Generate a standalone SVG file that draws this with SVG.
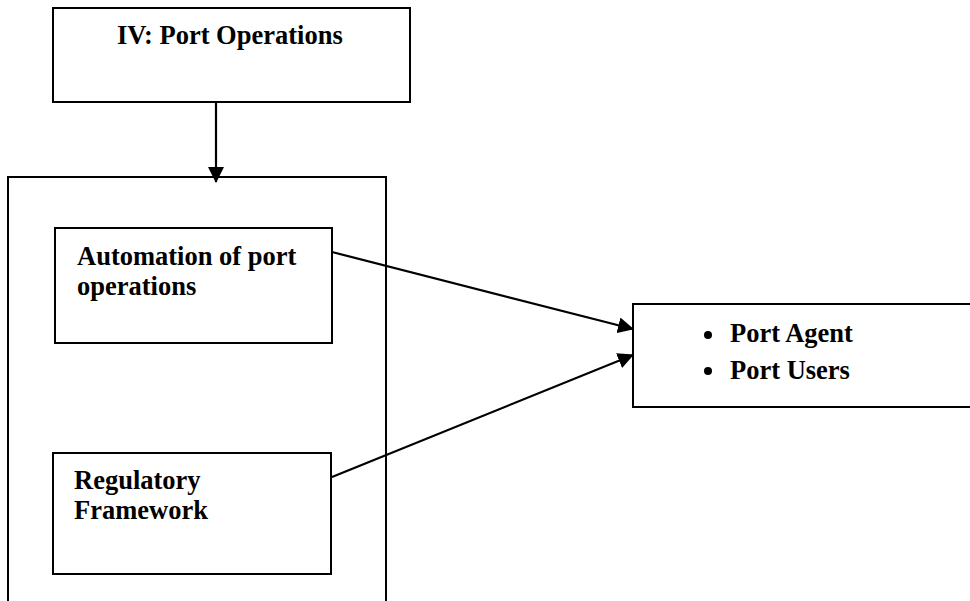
<svg xmlns="http://www.w3.org/2000/svg" width="970" height="601" viewBox="0 0 970 601">
<style>
.box{fill:#fff;stroke:#000;stroke-width:2}
.t{font-family:"Liberation Serif","Times New Roman",serif;font-weight:bold;font-size:26.5px;fill:#000}
.c{stroke:#000;stroke-width:2.2;fill:none}
</style>
<defs>
<marker id="ah" markerUnits="userSpaceOnUse" markerWidth="16" markerHeight="16" viewBox="0 0 16 16" refX="15" refY="8" orient="auto">
<path d="M0,0 L16,8 L0,16 Z" fill="#000"/>
</marker>
</defs>
<rect width="970" height="601" fill="#fff"/>
<g id="port-operations">
<rect class="box" x="53" y="8" width="357" height="94"/>
<text class="t" x="117" y="44">IV: Port Operations</text>
</g>
<g id="container">
<rect class="box" x="8" y="177" width="378" height="440"/>
</g>
<g id="automation">
<rect class="box" x="55" y="228" width="277" height="115"/>
<text class="t" x="77" y="265">Automation of port</text>
<text class="t" x="77" y="295">operations</text>
</g>
<g id="regulatory">
<rect class="box" x="53" y="453" width="278" height="121"/>
<text class="t" x="74" y="489">Regulatory</text>
<text class="t" x="74" y="519">Framework</text>
</g>
<g id="port-agents">
<rect class="box" x="633" y="304" width="345" height="103"/>
<circle cx="708" cy="335" r="4"/>
<text class="t" x="730" y="342">Port Agent</text>
<circle cx="708" cy="371" r="4"/>
<text class="t" x="730" y="379">Port Users</text>
</g>
<g id="connectors">
<line class="c" x1="216" y1="103" x2="216" y2="182" marker-end="url(#ah)"/>
<line class="c" x1="332" y1="252" x2="633" y2="329" marker-end="url(#ah)"/>
<line class="c" x1="332" y1="477" x2="633" y2="355" marker-end="url(#ah)"/>
</g>
</svg>
